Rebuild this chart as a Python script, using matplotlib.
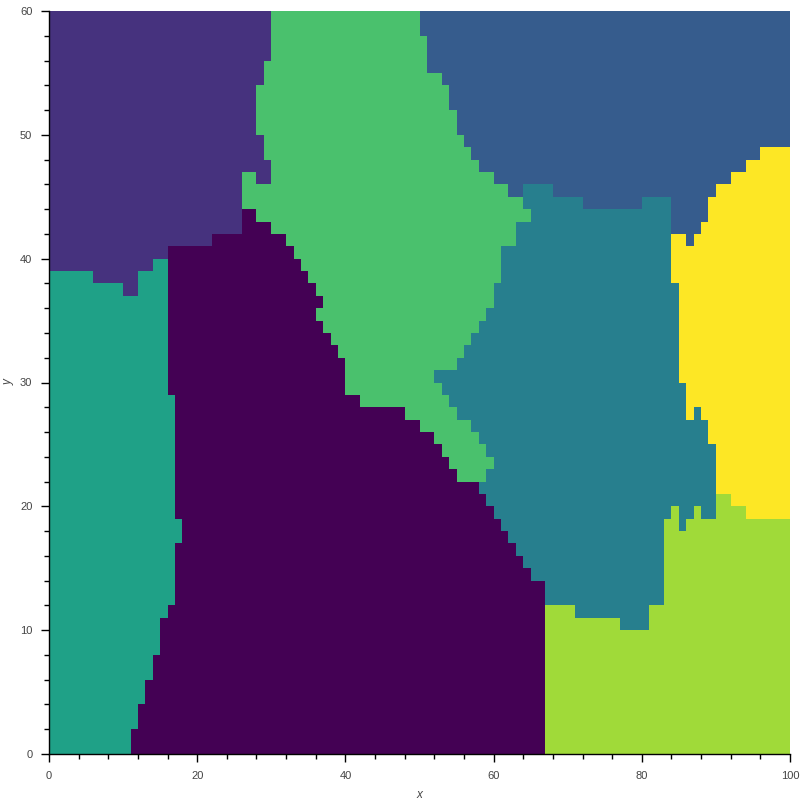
import numpy as np
import matplotlib
matplotlib.use("Agg")
import matplotlib.pyplot as plt
from matplotlib.ticker import MultipleLocator

plt.rcParams['font.family'] = ['Liberation Sans', 'DejaVu Sans']

# cluster labels, one row per y cell from the top (y=59) down to y=0
# each row: (start_x, label) runs, label 0..7
rows = [
    [(0, 1), (30, 5), (50, 2)],
    [(0, 1), (30, 5), (50, 2)],
    [(0, 1), (30, 5), (51, 2)],
    [(0, 1), (30, 5), (51, 2)],
    [(0, 1), (29, 5), (51, 2)],
    [(0, 1), (29, 5), (53, 2)],
    [(0, 1), (28, 5), (54, 2)],
    [(0, 1), (28, 5), (54, 2)],
    [(0, 1), (28, 5), (55, 2)],
    [(0, 1), (28, 5), (55, 2)],
    [(0, 1), (29, 5), (56, 2)],
    [(0, 1), (29, 5), (57, 2), (96, 7)],
    [(0, 1), (30, 5), (58, 2), (94, 7)],
    [(0, 1), (26, 5), (28, 1), (30, 5), (60, 2), (92, 7)],
    [(0, 1), (26, 5), (62, 2), (64, 3), (68, 2), (90, 7)],
    [(0, 1), (26, 5), (64, 3), (72, 2), (80, 3), (84, 2), (89, 7)],
    [(0, 1), (26, 0), (28, 5), (65, 3), (84, 2), (89, 7)],
    [(0, 1), (26, 0), (30, 5), (63, 3), (84, 2), (88, 7)],
    [(0, 1), (22, 0), (32, 5), (63, 3), (84, 7), (86, 2), (87, 7)],
    [(0, 1), (16, 0), (33, 5), (61, 3), (84, 7)],
    [(0, 1), (14, 4), (16, 0), (34, 5), (61, 3), (84, 7)],
    [(0, 4), (6, 1), (12, 4), (16, 0), (35, 5), (61, 3), (84, 7)],
    [(0, 4), (10, 1), (12, 4), (16, 0), (36, 5), (60, 3), (85, 7)],
    [(0, 4), (16, 0), (37, 5), (60, 3), (85, 7)],
    [(0, 4), (16, 0), (36, 5), (59, 3), (85, 7)],
    [(0, 4), (16, 0), (37, 5), (58, 3), (85, 7)],
    [(0, 4), (16, 0), (38, 5), (57, 3), (85, 7)],
    [(0, 4), (16, 0), (39, 5), (56, 3), (85, 7)],
    [(0, 4), (16, 0), (40, 5), (55, 3), (85, 7)],
    [(0, 4), (16, 0), (40, 5), (52, 3), (85, 7)],
    [(0, 4), (16, 0), (40, 5), (53, 3), (86, 7)],
    [(0, 4), (17, 0), (42, 5), (54, 3), (86, 7)],
    [(0, 4), (17, 0), (48, 5), (55, 3), (86, 7), (87, 3), (88, 7)],
    [(0, 4), (17, 0), (50, 5), (57, 3), (89, 7)],
    [(0, 4), (17, 0), (52, 5), (58, 3), (89, 7)],
    [(0, 4), (17, 0), (53, 5), (59, 3), (90, 7)],
    [(0, 4), (17, 0), (54, 5), (60, 3), (90, 7)],
    [(0, 4), (17, 0), (55, 5), (59, 3), (90, 7)],
    [(0, 4), (17, 0), (58, 3), (90, 7)],
    [(0, 4), (17, 0), (59, 3), (90, 6), (92, 7)],
    [(0, 4), (17, 0), (60, 3), (84, 6), (85, 3), (87, 6), (88, 3), (90, 6), (94, 7)],
    [(0, 4), (18, 0), (61, 3), (83, 6), (85, 3), (86, 6)],
    [(0, 4), (18, 0), (62, 3), (83, 6)],
    [(0, 4), (17, 0), (63, 3), (83, 6)],
    [(0, 4), (17, 0), (64, 3), (83, 6)],
    [(0, 4), (17, 0), (65, 3), (83, 6)],
    [(0, 4), (17, 0), (67, 3), (83, 6)],
    [(0, 4), (17, 0), (67, 3), (83, 6)],
    [(0, 4), (16, 0), (67, 6), (71, 3), (81, 6)],
    [(0, 4), (15, 0), (67, 6), (77, 3), (81, 6)],
    [(0, 4), (15, 0), (67, 6)],
    [(0, 4), (15, 0), (67, 6)],
    [(0, 4), (14, 0), (67, 6)],
    [(0, 4), (14, 0), (67, 6)],
    [(0, 4), (13, 0), (67, 6)],
    [(0, 4), (13, 0), (67, 6)],
    [(0, 4), (12, 0), (67, 6)],
    [(0, 4), (12, 0), (67, 6)],
    [(0, 4), (11, 0), (67, 6)],
    [(0, 4), (11, 0), (67, 6)],
]

nx, ny = 100, 60

# expand runs into the label grid (row 0 = y 0)
grid = np.zeros((ny, nx), dtype=int)
for r, runs in enumerate(rows):
    line = np.zeros(nx, dtype=int)
    for k, (start, lab) in enumerate(runs):
        end = runs[k + 1][0] if k + 1 < len(runs) else nx
        line[start:end] = lab
    grid[ny - 1 - r] = line

fig = plt.figure(figsize=(8, 8), dpi=100)
ax = fig.add_axes([49 / 800, 1 - 754 / 800, 741 / 800, 743 / 800])

cmap = plt.get_cmap('viridis', 8)
ax.pcolormesh(np.arange(nx + 1), np.arange(ny + 1), grid, cmap=cmap,
              vmin=-0.5, vmax=7.5, shading='flat', antialiased=False,
              edgecolors='none')

ax.set_xlim(0, 100)
ax.set_ylim(0, 60)

for s in ['top', 'right']:
    ax.spines[s].set_visible(False)
for s in ['left', 'bottom']:
    ax.spines[s].set_color('black')
    ax.spines[s].set_linewidth(1)

ax.xaxis.set_major_locator(MultipleLocator(20))
ax.xaxis.set_minor_locator(MultipleLocator(4))
ax.yaxis.set_major_locator(MultipleLocator(10))
ax.yaxis.set_minor_locator(MultipleLocator(2))
ax.tick_params(which='major', direction='out', length=6, width=1,
               color='black', labelsize=8, labelcolor='#444444', pad=6)
ax.tick_params(which='minor', direction='out', length=3.5, width=1,
               color='black')

ax.set_xlabel('x', fontsize=8.5, fontstyle='italic', color='#444444', labelpad=6)
ax.set_ylabel('y', fontsize=8.5, fontstyle='italic', color='#444444', labelpad=4)

fig.savefig('out.png', dpi=100)
